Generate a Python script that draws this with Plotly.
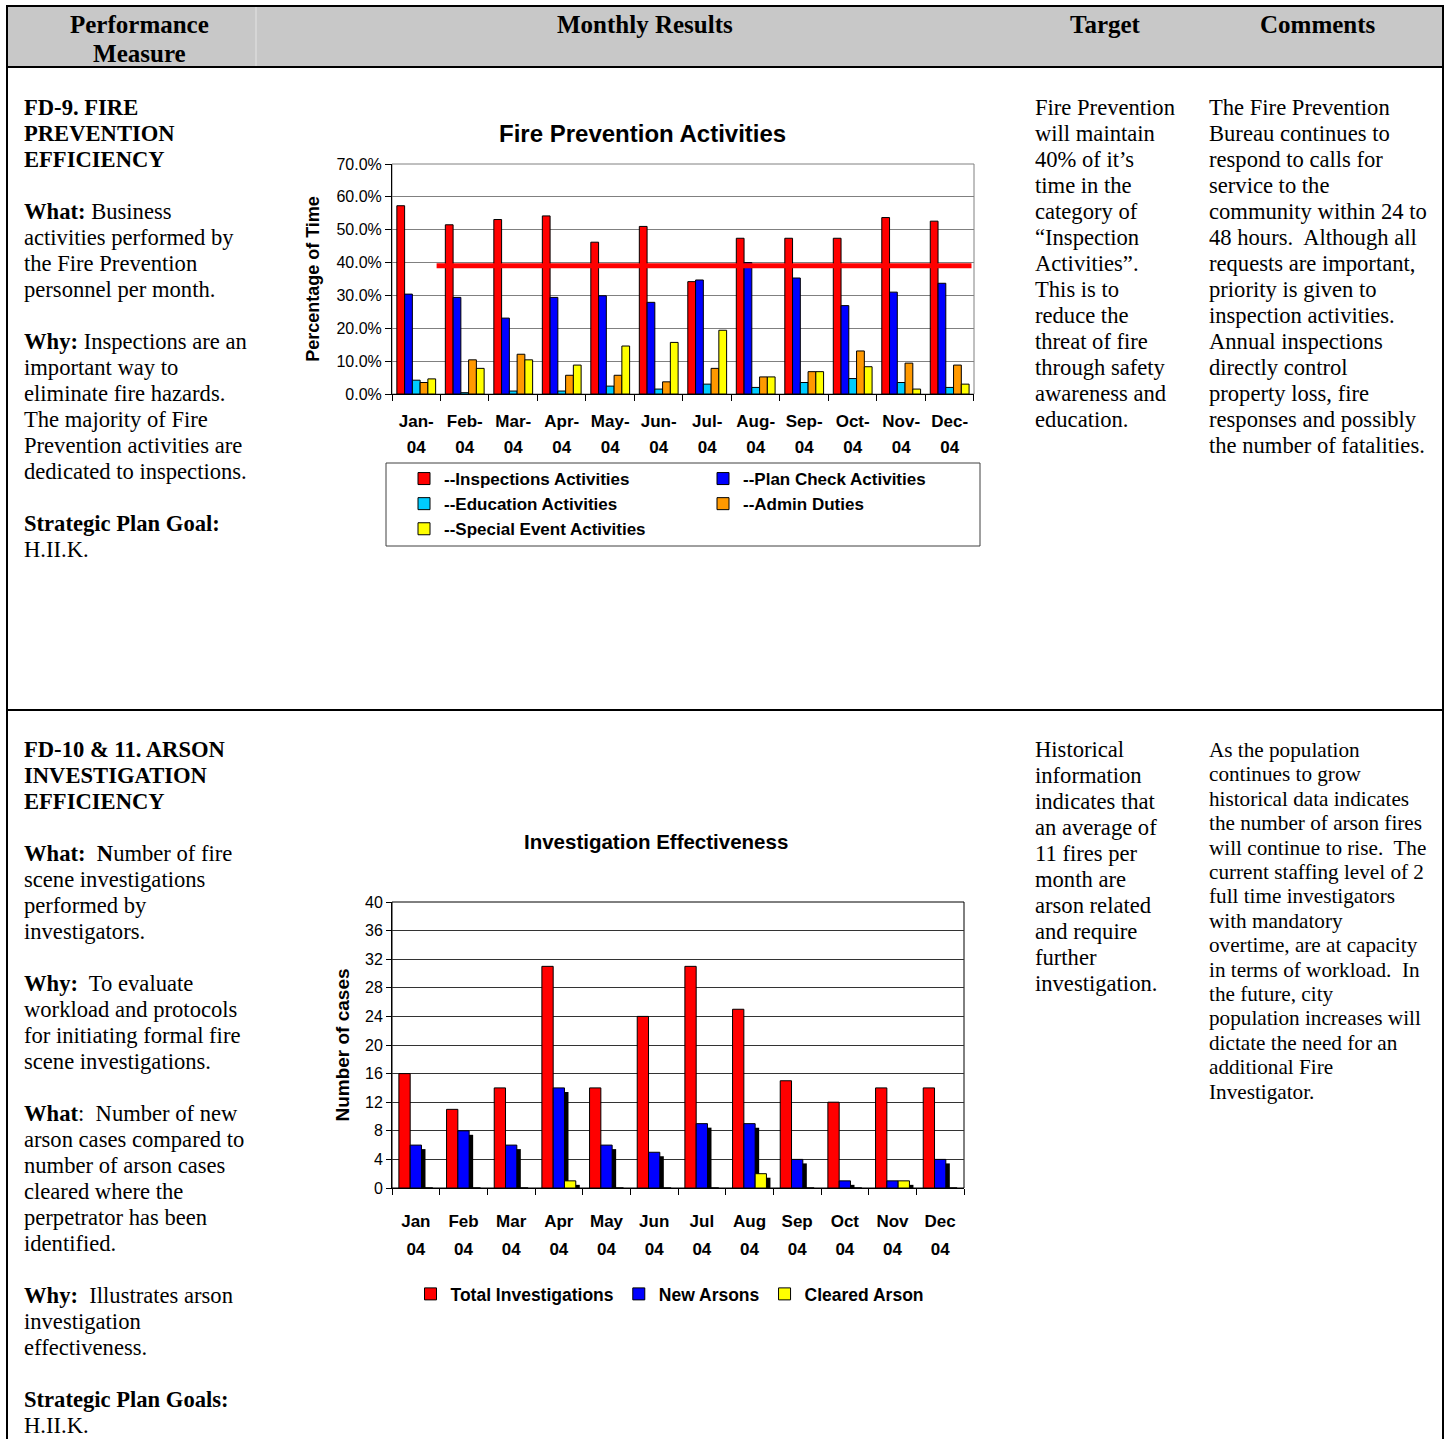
import plotly.graph_objects as go

W, H = 1449, 1439

# ---------------- Chart 1 data: Fire Prevention Activities ----------------
FP_MONTHS = ["Jan-04", "Feb-04", "Mar-04", "Apr-04", "May-04", "Jun-04",
             "Jul-04", "Aug-04", "Sep-04", "Oct-04", "Nov-04", "Dec-04"]
INSPECTIONS = [0.573, 0.515, 0.531, 0.542, 0.462, 0.510, 0.342, 0.474, 0.474, 0.474, 0.537, 0.526]
PLAN_CHECK = [0.304, 0.294, 0.231, 0.294, 0.299, 0.279, 0.347, 0.400, 0.353, 0.269, 0.310, 0.337]
EDUCATION = [0.042, 0.004, 0.009, 0.009, 0.024, 0.015, 0.030, 0.020, 0.035, 0.047, 0.035, 0.020]
ADMIN = [0.035, 0.104, 0.121, 0.057, 0.057, 0.037, 0.078, 0.052, 0.068, 0.131, 0.094, 0.088]
SPECIAL = [0.046, 0.078, 0.104, 0.088, 0.146, 0.157, 0.194, 0.052, 0.068, 0.083, 0.015, 0.030]
FP_NAMES = ["--Inspections Activities", "--Plan Check Activities", "--Education Activities",
            "--Admin Duties", "--Special Event Activities"]
FP_COLORS = ["#FF0000", "#0000FF", "#00CCFF", "#FF9900", "#FFFF00"]
FP_LEGEND = ["legend", "legend2", "legend", "legend2", "legend"]
FP_TARGET = 0.39

# ---------------- Chart 2 data: Investigation Effectiveness ----------------
AR_MONTHS = ["Jan 04", "Feb 04", "Mar 04", "Apr 04", "May 04", "Jun 04",
             "Jul 04", "Aug 04", "Sep 04", "Oct 04", "Nov 04", "Dec 04"]
TOTAL_INV = [16, 11, 14, 31, 14, 24, 31, 25, 15, 12, 14, 14]
NEW_ARSONS = [6, 8, 6, 14, 6, 5, 9, 9, 4, 1, 1, 4]
CLEARED_ARSON = [0, 0, 0, 1, 0, 0, 0, 2, 0, 0, 1, 0]
AR_NAMES = ["Total Investigations", "New Arsons", "Cleared Arson"]
AR_COLORS = ["#FF0000", "#0000FF", "#FFFF00"]

SERIF = "Liberation Serif, Times New Roman, serif"
SANS = "Liberation Sans, Arial, sans-serif"


def px(x):
    return x / W


def py(y):
    return 1 - y / H


fig = go.Figure()

# chart 1 bars
for name, vals, color, leg in zip(FP_NAMES, [INSPECTIONS, PLAN_CHECK, EDUCATION, ADMIN, SPECIAL],
                                  FP_COLORS, FP_LEGEND):
    fig.add_trace(go.Bar(x=FP_MONTHS, y=vals, name="<b>" + name + "</b>",
                         marker=dict(color=color, line=dict(color="black", width=1)),
                         xaxis="x", yaxis="y", legend=leg, hoverinfo="x+y+name"))

# chart 2 bars (with a drop shadow on the blue and yellow series)
BW = 0.237
AR_OFFSETS = [-1.5 * BW, -0.5 * BW, 0.5 * BW]
SHADOW_DX, SHADOW_DY = 0.084, 0.56
for i, (name, vals, color) in enumerate(zip(AR_NAMES, [TOTAL_INV, NEW_ARSONS, CLEARED_ARSON], AR_COLORS)):
    if i > 0:
        fig.add_trace(go.Bar(x=AR_MONTHS, y=vals, base=-SHADOW_DY, width=BW,
                             offset=AR_OFFSETS[i] + SHADOW_DX,
                             marker=dict(color="black", line=dict(width=0)),
                             showlegend=False, hoverinfo="skip", xaxis="x2", yaxis="y2"))
    fig.add_trace(go.Bar(x=AR_MONTHS, y=vals, name="<b>" + name + "</b>", width=BW,
                         offset=AR_OFFSETS[i],
                         marker=dict(color=color, line=dict(color="black", width=1)),
                         xaxis="x2", yaxis="y2", legend="legend3"))

# target line on chart 1
shapes = [dict(type="line", xref="x", yref="y", x0=0.42, x1=11.45, y0=FP_TARGET, y1=FP_TARGET,
               line=dict(color="#FF0000", width=5), layer="above")]

# plot-area frames
shapes.append(dict(type="rect", xref="x domain", yref="y domain", x0=0, x1=1, y0=0, y1=1,
                   line=dict(color="#808080", width=1), layer="below"))
shapes.append(dict(type="rect", xref="x2 domain", yref="y2 domain", x0=0, x1=1, y0=0, y1=1,
                   line=dict(color="black", width=1), layer="below"))
# legend box chart 1
shapes.append(dict(type="rect", xref="paper", yref="paper", x0=px(386), x1=px(980), y0=py(546), y1=py(463),
                   line=dict(color="#404040", width=1)))

# table: header fill and borders
shapes.append(dict(type="rect", xref="paper", yref="paper", x0=px(8), x1=px(1442), y0=py(66), y1=py(7),
                   fillcolor="#C8C8C8", line=dict(width=0), layer="below"))
shapes.append(dict(type="line", xref="paper", yref="paper", x0=px(256), x1=px(256), y0=py(66), y1=py(7),
                   line=dict(color="#E4E4E4", width=1), layer="below"))
for (x0, y0, x1, y1) in [(6, 6, 1444, 6), (6, 67, 1444, 67), (6, 710, 1444, 710),
                         (7, 5, 7, 1439), (1443, 5, 1443, 1439)]:
    shapes.append(dict(type="line", xref="paper", yref="paper", x0=px(x0), x1=px(x1), y0=py(y0), y1=py(y1),
                       line=dict(color="black", width=2)))

annotations = []


def text_block(x, top, text, base, inner, family=SERIF, anchor="left"):
    annotations.append(dict(
        xref="paper", yref="paper", x=px(x), y=py(top), xanchor=anchor, yanchor="top",
        align="left" if anchor == "left" else "center", showarrow=False,
        text="<span style='font-size:%gpx'>%s</span>" % (inner, text),
        font=dict(family=family, size=base, color="black")))


# header
text_block(139, 9, "<b>Performance<br>Measure</b>", 22.3, 25, anchor="center")
text_block(645, 9, "<b>Monthly Results</b>", 22.3, 25, anchor="center")
text_block(1105, 9, "<b>Target</b>", 22.3, 25, anchor="center")
text_block(1318, 9, "<b>Comments</b>", 22.3, 25, anchor="center")

NB = "\u00a0"
LEFT1 = ("<b>FD-9. FIRE<br>PREVENTION<br>EFFICIENCY</b><br><br>"
         "<b>What:</b> Business<br>activities performed by<br>the Fire Prevention<br>personnel per month.<br><br>"
         "<b>Why:</b> Inspections are an<br>important way to<br>eliminate fire hazards.<br>The majority of Fire<br>"
         "Prevention activities are<br>dedicated to inspections.<br><br>"
         "<b>Strategic Plan Goal:</b><br>H.II.K.")
TARGET1 = ("Fire Prevention<br>will maintain<br>40% of it\u2019s<br>time in the<br>category of<br>"
           "\u201cInspection<br>Activities\u201d.<br>This is to<br>reduce the<br>threat of fire<br>"
           "through safety<br>awareness and<br>education.")
COMMENTS1 = ("The Fire Prevention<br>Bureau continues to<br>respond to calls for<br>service to the<br>"
             "community within 24 to<br>48 hours." + NB + " Although all<br>requests are important,<br>"
             "priority is given to<br>inspection activities.<br>Annual inspections<br>directly control<br>"
             "property loss, fire<br>responses and possibly<br>the number of fatalities.")
LEFT2 = ("<b>FD-10 &amp; 11. ARSON<br>INVESTIGATION<br>EFFICIENCY</b><br><br>"
         "<b>What:" + NB + " N</b>umber of fire<br>scene investigations<br>performed by<br>investigators.<br><br>"
         "<b>Why:</b>" + NB + " To evaluate<br>workload and protocols<br>for initiating formal fire<br>"
         "scene investigations.<br><br>"
         "<b>What</b>:" + NB + " Number of new<br>arson cases compared to<br>number of arson cases<br>"
         "cleared where the<br>perpetrator has been<br>identified.<br><br>"
         "<b>Why:</b>" + NB + " Illustrates arson<br>investigation<br>effectiveness.<br><br>"
         "<b>Strategic Plan Goals:</b><br>H.II.K.")
TARGET2 = ("Historical<br>information<br>indicates that<br>an average of<br>11 fires per<br>month are<br>"
           "arson related<br>and require<br>further<br>investigation.")
COMMENTS2 = ("As the population<br>continues to grow<br>historical data indicates<br>the number of arson fires<br>"
             "will continue to rise." + NB + " The<br>current staffing level of 2<br>full time investigators<br>"
             "with mandatory<br>overtime, are at capacity<br>in terms of workload." + NB + " In<br>"
             "the future, city<br>population increases will<br>dictate the need for an<br>additional Fire<br>"
             "Investigator.")

text_block(22, 93.4, LEFT1, 20, 22.6)
text_block(1033, 93.4, TARGET1, 20, 22.6)
text_block(1207, 93.4, COMMENTS1, 20, 22.6)
text_block(22, 735.4, LEFT2, 20, 22.6)
text_block(1033, 735.4, TARGET2, 20, 22.6)
text_block(1207, 736.1, COMMENTS2, 18.77, 21.2)

# chart titles
annotations.append(dict(xref="paper", yref="paper", x=px(642), y=py(118), xanchor="center", yanchor="top",
                        showarrow=False, text="<b>Fire Prevention Activities</b>",
                        font=dict(family=SANS, size=24, color="black")))
annotations.append(dict(xref="paper", yref="paper", x=px(656), y=py(828), xanchor="center", yanchor="top",
                        showarrow=False, text="<b>Investigation Effectiveness</b>",
                        font=dict(family=SANS, size=20.5, color="black")))

FP_TICKTEXT = ["<span style='font-size:17px'><b>%s-<br>%s</b></span>" % tuple(m.split("-"))
               for m in FP_MONTHS]
AR_TICKTEXT = ["<span style='font-size:17px'><b>%s<br>%s</b></span>" % tuple(m.split(" "))
               for m in AR_MONTHS]

fig.update_layout(
    width=W, height=H, margin=dict(l=0, r=0, t=0, b=0),
    paper_bgcolor="white", plot_bgcolor="white",
    barmode="group", bargap=0.2, bargroupgap=0,
    shapes=shapes, annotations=annotations,
    xaxis=dict(domain=[px(392), px(974)], anchor="y", type="category", automargin=False,
               tickmode="array", tickvals=FP_MONTHS, ticktext=FP_TICKTEXT, tickangle=0,
               tickfont=dict(family=SANS, size=20, color="black"),
               showline=True, linecolor="black", linewidth=1, ticks="outside", ticklen=6,
               tickcolor="black", tickson="boundaries", showgrid=False, ticklabelstandoff=8),
    yaxis=dict(domain=[py(394), py(164)], anchor="x", range=[0, 0.7], tick0=0, dtick=0.1,
               tickformat=".1%", automargin=False, zeroline=False,
               showgrid=True, gridcolor="#808080", gridwidth=1,
               showline=True, linecolor="black", linewidth=1, ticks="outside", ticklen=6, tickcolor="black",
               tickfont=dict(family=SANS, size=16, color="black"),
               title=dict(text="<b>Percentage of Time</b>", font=dict(family=SANS, size=18, color="black"),
                          standoff=12)),
    xaxis2=dict(domain=[px(392), px(964)], anchor="y2", type="category", automargin=False,
                tickmode="array", tickvals=AR_MONTHS, ticktext=AR_TICKTEXT, tickangle=0,
                tickfont=dict(family=SANS, size=21.5, color="black"),
                showline=True, linecolor="black", linewidth=1, ticks="outside", ticklen=6,
                tickcolor="black", tickson="boundaries", showgrid=False, ticklabelstandoff=12),
    yaxis2=dict(domain=[py(1188), py(902)], anchor="x2", range=[0, 40], tick0=0, dtick=4,
                automargin=False, zeroline=False,
                showgrid=True, gridcolor="#333333", gridwidth=1,
                showline=True, linecolor="black", linewidth=1, ticks="outside", ticklen=5, tickcolor="black",
                tickfont=dict(family=SANS, size=16, color="black"),
                title=dict(text="<b>Number of cases</b>", font=dict(family=SANS, size=19, color="black"),
                           standoff=10)),
    legend=dict(x=px(404), y=py(461), xanchor="left", yanchor="top", orientation="v",
                font=dict(family=SANS, size=17, color="black"), bgcolor="rgba(0,0,0,0)",
                borderwidth=0, tracegroupgap=0),
    legend2=dict(x=px(703), y=py(461), xanchor="left", yanchor="top", orientation="v",
                 font=dict(family=SANS, size=17, color="black"), bgcolor="rgba(0,0,0,0)",
                 borderwidth=0, tracegroupgap=0),
    legend3=dict(x=px(670), y=py(1276), xanchor="center", yanchor="top", orientation="h",
                 font=dict(family=SANS, size=17.5, color="black"), bgcolor="rgba(0,0,0,0)",
                 borderwidth=0),
)

fig.write_html("out.html", config={"displayModeBar": False},
               post_script="document.body.style.margin='0px';")
